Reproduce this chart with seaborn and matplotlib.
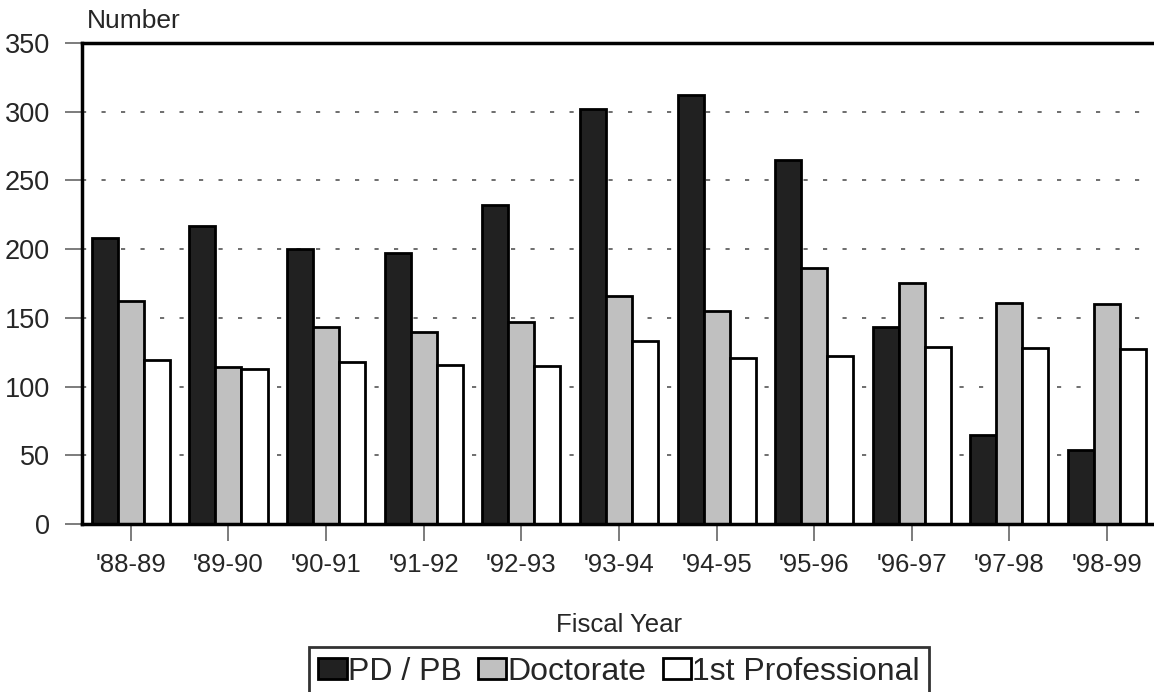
import pandas as pd
import numpy as np
import matplotlib.pyplot as plt
import seaborn as sns

years = ["'88-89", "'89-90", "'90-91", "'91-92", "'92-93", "'93-94",
         "'94-95", "'95-96", "'96-97", "'97-98", "'98-99"]
pd_pb = [208, 217, 200, 197, 232, 302, 312, 265, 143, 65, 54]
doctorate = [162, 114, 143, 140, 147, 166, 155, 186, 175, 161, 160]
first_prof = [119, 113, 118, 116, 115, 133, 121, 122, 129, 128, 127]
types = ['PD / PB', 'Doctorate', '1st Professional']
colors = ['#212121', '#c0c0c0', '#ffffff']

df = pd.DataFrame({'Year': years * 3,
                   'Number': pd_pb + doctorate + first_prof,
                   'Type': [types[0]] * 11 + [types[1]] * 11 + [types[2]] * 11})

sns.set_style('white')
plt.rcParams['font.family'] = ['Liberation Sans', 'DejaVu Sans']

fig = plt.figure(figsize=(11.54, 6.92), dpi=100)
ax = fig.add_axes([0.0711, 0.2428, 0.9305, 0.6951])

# dotted grid lines behind the bars
for y in [50, 100, 150, 200, 250, 300]:
    ax.axhline(y, color='#555555', lw=1.2, ls=(0, (2.5, 9.2)), zorder=0)

sns.barplot(data=df, x='Year', y='Number', hue='Type', palette=colors,
            saturation=1, edgecolor='black', linewidth=2, width=0.8,
            ax=ax, zorder=2)

ax.set_ylim(0, 350)
ax.set_xlim(-0.5, 10.5)
ax.set_yticks(np.arange(0, 351, 50))
ax.set_ylabel('')
ax.set_xlabel('Fiscal Year', fontsize=18.5, labelpad=26)
ax.tick_params(axis='x', labelsize=18.5, length=12, width=1.2,
               color='#666666', pad=9, bottom=True)
ax.tick_params(axis='y', labelsize=19.5, length=12, width=1.2,
               color='#666666', pad=11, left=True)

for s in ['top', 'left', 'bottom']:
    ax.spines[s].set_linewidth(2.5)
    ax.spines[s].set_color('black')
ax.spines['right'].set_visible(False)

fig.text(0.075, 0.97, 'Number', fontsize=19, va='center', ha='left')

handles, labels = ax.get_legend_handles_labels()
ax.legend_.remove()
leg = fig.legend(handles, labels, loc='upper center', bbox_to_anchor=(0.5365, 0.065),
                 ncol=3, fontsize=23, frameon=True, fancybox=False,
                 handlelength=0.88, handleheight=0.63, handletextpad=0.05,
                 columnspacing=0.5, borderpad=0.3, borderaxespad=0)
leg.get_frame().set_edgecolor('black')
leg.get_frame().set_linewidth(2)

fig.savefig('out.png', dpi=100)
